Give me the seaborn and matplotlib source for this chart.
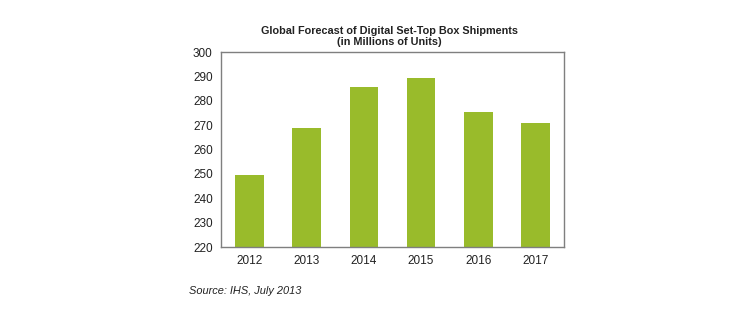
import matplotlib
matplotlib.use("Agg")
import matplotlib.pyplot as plt
import seaborn as sns
import pandas as pd

years = ["2012", "2013", "2014", "2015", "2016", "2017"]
shipments = [249.6, 268.8, 285.6, 289.3, 275.5, 271.0]
y_ticks = [220, 230, 240, 250, 260, 270, 280, 290, 300]

sns.set_theme(style="white")
plt.rcParams["font.family"] = ["Liberation Sans", "DejaVu Sans"]

df = pd.DataFrame({"year": years, "units": shipments})

fig = plt.figure(figsize=(7.5, 3.3), dpi=100)
ax = fig.add_axes([0.2947, 0.2515, 0.4573, 0.5909])

sns.barplot(data=df, x="year", y="units", color="#99bb2b", saturation=1,
            width=0.5, linewidth=0, ax=ax)

ax.set_ylim(220, 300)
ax.set_yticks(y_ticks)
ax.set_xlabel("")
ax.set_ylabel("")
ax.tick_params(axis="both", length=0, labelsize=8.5, colors="#222222", pad=6)
for s in ax.spines.values():
    s.set_color("#7f7f7f")
    s.set_linewidth(1)

fig.text(0.519, 0.92, "Global Forecast of Digital Set-Top Box Shipments\n(in Millions of Units)",
         ha="center", va="top", fontsize=7.8, fontweight="bold", color="#222222",
         linespacing=1.1)
fig.text(0.252, 0.118, "Source: IHS, July 2013", ha="left", va="center",
         fontsize=7.9, style="italic", color="#222222")

fig.savefig("out.png", dpi=100)
